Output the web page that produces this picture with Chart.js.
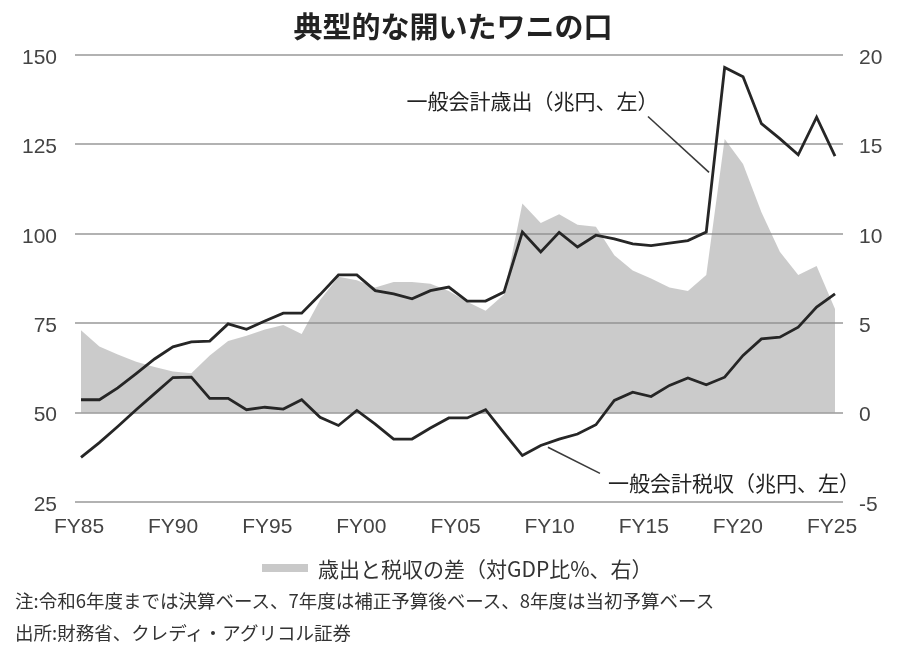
<!DOCTYPE html>
<html lang="ja">
<head>
<meta charset="utf-8">
<title>典型的な開いたワニの口</title>
<script src="https://cdn.jsdelivr.net/npm/chart.js@4.4.1/dist/chart.umd.min.js"></script>
<style>
  body { margin: 0; background: #fff; }
  #wrap { position: relative; width: 906px; height: 652px; overflow: hidden; font-family: "Noto Sans CJK JP", sans-serif; color: #333; }
  #chart { position: absolute; left: 0; top: 0; }
  #title { position: absolute; left: 0; top: 0; width: 906px; text-align: center; font-size: 29px; font-weight: bold; line-height: 50px; color: #222; }
  #legend-box { position: absolute; left: 262px; top: 564px; width: 46px; height: 8px; background: #c9c9c9; }
  #legend-text { position: absolute; left: 318px; top: 556px; line-height: 24px; font-size: 21px; white-space: nowrap; }
  #notes { position: absolute; left: 15px; top: 584px; font-size: 18.5px; line-height: 32px; white-space: nowrap; }
</style>
</head>
<body>
<div id="wrap">
  <canvas id="chart" width="906" height="652"></canvas>
  <div id="title">典型的な開いたワニの口</div>
  <div id="legend-box"></div>
  <div id="legend-text">歳出と税収の差（対GDP比%、右）</div>
  <div id="notes">注:令和6年度までは決算ベース、7年度は補正予算後ベース、8年度は当初予算ベース<br>出所:財務省、クレディ・アグリコル証券</div>
</div>
<script>
'use strict';

// ******** DATA *************************************
let fiscalYears = [
  1985, 1986, 1987, 1988, 1989, 1990, 1991, 1992, 1993, 1994,
  1995, 1996, 1997, 1998, 1999, 2000, 2001, 2002, 2003, 2004,
  2005, 2006, 2007, 2008, 2009, 2010, 2011, 2012, 2013, 2014,
  2015, 2016, 2017, 2018, 2019, 2020, 2021, 2022, 2023, 2024,
  2025, 2026
];

// 一般会計歳出（兆円、左）
let spending = [
  53.6, 53.6, 56.9, 60.9, 65.0, 68.4, 69.8, 70.0, 74.8, 73.3,
  75.6, 77.8, 77.8, 83.0, 88.5, 88.5, 84.1, 83.2, 81.8, 84.1,
  85.1, 81.2, 81.2, 83.7, 100.5, 94.9, 100.4, 96.3, 99.6, 98.6,
  97.2, 96.7, 97.4, 98.1, 100.5, 146.5, 143.9, 130.8, 126.6, 122.1,
  132.6, 121.7
];

// 一般会計税収（兆円、左）
let taxRevenue = [
  37.5, 41.6, 46.1, 50.8, 55.3, 59.8, 59.9, 54.0, 54.0, 50.8,
  51.5, 51.0, 53.6, 48.7, 46.4, 50.6, 46.8, 42.6, 42.6, 45.7,
  48.5, 48.5, 50.8, 44.3, 38.0, 40.8, 42.6, 44.0, 46.6, 53.4,
  55.7, 54.5, 57.6, 59.7, 57.8, 59.9, 66.0, 70.6, 71.1, 73.9,
  79.5, 83.2
];

// 歳出と税収の差（対GDP比%、右）
let gapToGdp = [
  4.6, 3.7, 3.25, 2.85, 2.55, 2.3, 2.2, 3.2, 4.0, 4.3,
  4.65, 4.9, 4.4, 6.3, 7.6, 7.4, 7.0, 7.3, 7.3, 7.2,
  6.8, 6.2, 5.7, 6.6, 11.7, 10.6, 11.1, 10.5, 10.4, 8.8,
  7.95, 7.5, 7.0, 6.8, 7.7, 15.3, 13.9, 11.2, 9.0, 7.7,
  8.2, 5.8
];

let xTickYears = [1985, 1990, 1995, 2000, 2005, 2010, 2015, 2020, 2025];
let xTickLabels = ['FY85', 'FY90', 'FY95', 'FY00', 'FY05', 'FY10', 'FY15', 'FY20', 'FY25'];
let leftTicks = [25, 50, 75, 100, 125, 150];
let rightTicks = [-5, 0, 5, 10, 15, 20];

// ******** CALLOUTS (label + leader line, in data coords) **************
let callouts = [
  { text: '一般会計歳出（兆円、左）', from: [2015.83, 132.8], to: [2019.15, 117.2], at: [2016.4, 137.0], align: 'right' },
  { text: '一般会計税収（兆円、左）', from: [2010.39, 40.3], to: [2013.22, 33.0], at: [2013.66, 30.4], align: 'left' }
];

let tickFont = { family: '"Liberation Sans", Arial, sans-serif', size: 21 };
let tickColor = '#444';

let calloutPlugin = {
  id: 'callouts',
  afterDatasetsDraw(chart) {
    let ctx = chart.ctx;
    let x = chart.scales.x;
    let y = chart.scales.y;
    ctx.save();
    ctx.strokeStyle = '#3a3a3a';
    ctx.lineWidth = 1.6;
    ctx.fillStyle = '#222';
    ctx.font = '21px "Noto Sans CJK JP"';
    ctx.textBaseline = 'middle';
    for (let i = 0; i < callouts.length; i++) {
      let c = callouts[i];
      ctx.beginPath();
      ctx.moveTo(x.getPixelForValue(c.from[0]), y.getPixelForValue(c.from[1]));
      ctx.lineTo(x.getPixelForValue(c.to[0]), y.getPixelForValue(c.to[1]));
      ctx.stroke();
      ctx.textAlign = c.align;
      ctx.fillText(c.text, x.getPixelForValue(c.at[0]), y.getPixelForValue(c.at[1]));
    }
    ctx.restore();
  }
};

let canvasElem = document.getElementById('chart');

new Chart(canvasElem, {
  type: 'line',
  data: {
    labels: fiscalYears,
    datasets: [
      {
        label: '一般会計歳出（兆円、左）',
        data: spending,
        yAxisID: 'y',
        borderColor: '#262626',
        borderWidth: 2.8,
        pointRadius: 0,
        tension: 0,
        fill: false,
        order: 1
      },
      {
        label: '一般会計税収（兆円、左）',
        data: taxRevenue,
        yAxisID: 'y',
        borderColor: '#262626',
        borderWidth: 2.8,
        pointRadius: 0,
        tension: 0,
        fill: false,
        order: 1
      },
      {
        label: '歳出と税収の差（対GDP比%、右）',
        data: gapToGdp,
        yAxisID: 'y2',
        borderWidth: 0,
        borderColor: 'rgba(0,0,0,0)',
        backgroundColor: 'rgba(140,140,140,0.45)',
        pointRadius: 0,
        tension: 0,
        fill: 'origin',
        order: 2
      }
    ]
  },
  options: {
    responsive: false,
    animation: false,
    layout: { padding: { top: 55, bottom: 110, left: 0, right: 0 } },
    plugins: {
      legend: { display: false },
      tooltip: { enabled: false }
    },
    scales: {
      x: {
        type: 'linear',
        display: false,
        min: 1984.674,
        max: 2026.435
      },
      // label-only axis: the reference spreads its FY labels a little wider than the data
      xl: {
        type: 'linear',
        position: 'bottom',
        min: 1984.788,
        max: 2025.584,
        grid: { display: false, drawTicks: false },
        border: { display: false },
        afterBuildTicks: axis => { axis.ticks = xTickYears.map(v => ({ value: v })); },
        afterFit: axis => { axis.height = 40; },
        ticks: {
          padding: 13,
          maxRotation: 0,
          autoSkip: false,
          font: tickFont,
          color: tickColor,
          callback: (value, index) => xTickLabels[index]
        }
      },
      y: {
        position: 'left',
        min: leftTicks[0],
        max: leftTicks[leftTicks.length - 1],
        afterBuildTicks: axis => { axis.ticks = leftTicks.map(v => ({ value: v })); },
        afterFit: axis => { axis.width = 75; },
        grid: { color: '#b2b2b2', lineWidth: 2, drawTicks: false },
        border: { display: false },
        ticks: { padding: 18, labelOffset: 3, font: tickFont, color: tickColor }
      },
      y2: {
        position: 'right',
        min: rightTicks[0],
        max: rightTicks[rightTicks.length - 1],
        afterBuildTicks: axis => { axis.ticks = rightTicks.map(v => ({ value: v })); },
        afterFit: axis => { axis.width = 63; },
        grid: { display: false, drawOnChartArea: false, drawTicks: false },
        border: { display: false },
        ticks: { padding: 16, labelOffset: 3, font: tickFont, color: tickColor }
      }
    }
  },
  plugins: [calloutPlugin]
});
</script>
</body>
</html>
